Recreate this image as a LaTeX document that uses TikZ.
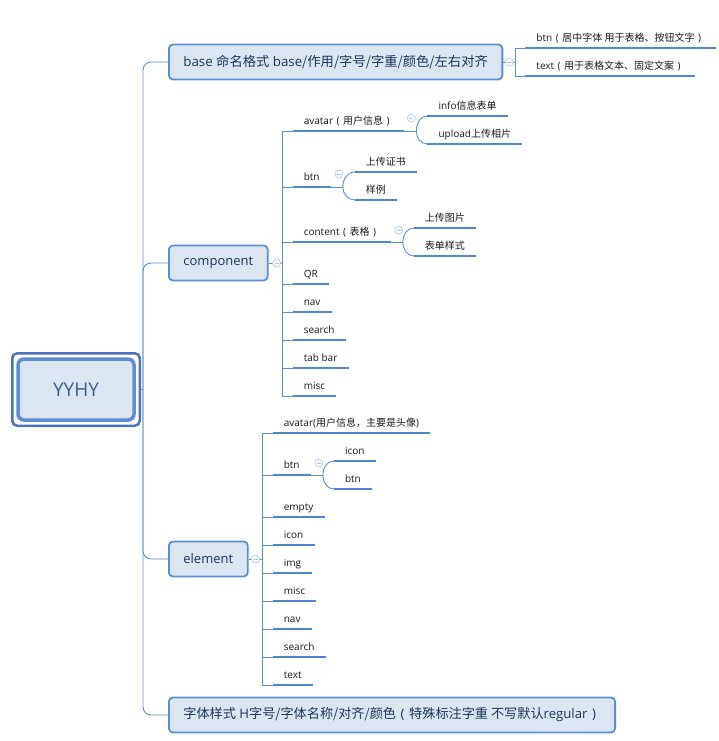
\documentclass[tikz,border=0pt]{standalone}
\usepackage{fontspec}
\setmainfont{Noto Sans CJK SC}
\newfontfamily\latfont{Open Sans}
\newcommand\lt[1]{{\latfont #1}}
\newcommand\zl{\makebox[1em][c]{\latfont (}}
\newcommand\zr{\makebox[1em][c]{\latfont )}}
\usetikzlibrary{fit,calc}
\definecolor{boxfill}{HTML}{DCE6F2}
\definecolor{boxdraw}{HTML}{5B8ED6}
\definecolor{rootdraw}{HTML}{4A72C2}
\definecolor{linec}{HTML}{5B8ED6}
\definecolor{ulc}{HTML}{4F86D0}
\definecolor{topictext}{HTML}{1C355E}
\definecolor{roottext}{HTML}{3A5C8C}
\definecolor{leaftext}{HTML}{1A1A1A}
\definecolor{btnc}{HTML}{A8C2EA}
\begin{document}
\begin{tikzpicture}[x=1pt,y=-1pt,
 topic/.style={draw=boxdraw, line width=1.8pt, fill=boxfill, rounded corners=4pt, minimum height=35pt, inner xsep=14.5pt, font=\fontsize{13}{15}\selectfont, text=topictext, anchor=west},
 rootin/.style={draw=boxdraw, line width=3.5pt, fill=boxfill, rounded corners=6pt, minimum width=116pt, minimum height=61pt, font=\fontsize{19}{22}\selectfont\latfont, text=roottext},
 rootout/.style={draw=rootdraw, line width=2.5pt, rounded corners=5pt, inner sep=4pt},
 leaf/.style={anchor=south west, inner xsep=11pt, inner ysep=4pt, text height=8pt, text depth=2.5pt, font=\fontsize{10}{12}\selectfont, text=leaftext},
 uline/.style={draw=ulc, line width=2.5pt},
 conn/.style={draw=linec, line width=0.9pt},
 collapse/.style={circle, draw=btnc, fill=white, line width=0.6pt, minimum size=8pt, inner sep=0pt,
   path picture={\draw[btnc, line width=0.6pt] ([xshift=-2pt]path picture bounding box.center) -- ([xshift=2pt]path picture bounding box.center);}}
]
\useasboundingbox (0,0) rectangle (718,741);

% root
\node[rootin] (root) at (76,389.5) {YYHY};
\node[rootout, fit=(root)] (rootframe) {};
\coordinate (sp) at (143,389.5);
\draw[conn] (rootframe.east) -- (sp);

% topics
\node[topic, font=\fontsize{13.3}{15}\selectfont] (base) at (168,62) {\lt{base }命名格式\lt{ base}/作用/字号/字重/颜色/左右对齐};
\node[topic] (comp) at (168,263) {\lt{component}};
\node[topic] (elem) at (168,559) {\lt{element}};
\node[topic, font=\fontsize{13.15}{15}\selectfont] (font) at (168,715) {字体样式\lt{ H}字号/字体名称/对齐/颜色\zl 特殊标注字重 不写默认\lt{regular}\zr};

\draw[conn, rounded corners=8pt] (sp) |- (base.west);
\draw[conn, rounded corners=8pt] (sp) |- (comp.west);
\draw[conn, rounded corners=8pt] (sp) |- (elem.west);
\draw[conn, rounded corners=8pt] (sp) |- (font.west);

% base children
\coordinate (bbus) at ($(base.east)+(12,0)$);
\node[leaf] (bb1) at ($(bbus)+(10,-14)$) {\lt{btn}\zl 居中字体 用于表格、按钮文字\zr};
\node[leaf] (bb2) at ($(bbus)+(10,14)$) {\lt{text}\zl 用于表格文本、固定文案\zr};
\draw[conn] (base.east) -- (bbus);
\draw[conn] (bbus) |- (bb1.south west);
\draw[conn] (bbus) |- (bb2.south west);

% component children
\coordinate (cbus) at ($(comp.east)+(14,0)$);
\node[leaf] (ca) at ($(cbus)+(10,-132)$) {\lt{avatar}\zl 用户信息\zr};
\node[leaf] (cb) at ($(cbus)+(10,-76)$) {\lt{btn}};
\node[leaf] (cc) at ($(cbus)+(10,-21)$) {\lt{content}\zl 表格\zr};
\node[leaf] (cd) at ($(cbus)+(10,21)$) {\lt{QR}};
\node[leaf] (ce) at ($(cbus)+(10,49)$) {\lt{nav}};
\node[leaf] (cf) at ($(cbus)+(10,77)$) {\lt{search}};
\node[leaf] (cg) at ($(cbus)+(10,105)$) {\lt{tab bar}};
\node[leaf] (ch) at ($(cbus)+(10,133)$) {\lt{misc}};
\draw[conn] (comp.east) -- (cbus);
\foreach \n in {ca,cb,cc,cd,ce,cf,cg,ch} \draw[conn] (cbus) |- (\n.south west);

% avatar children
\coordinate (caj) at ($(ca.south east)+(12,0)$);
\node[leaf] (ca1) at ($(ca.south east)+(23,-15)$) {\lt{info}信息表单};
\node[leaf] (ca2) at ($(ca.south east)+(23,13)$) {\lt{upload}上传相片};
\draw[conn] (ca.south east) -- (caj);
\draw[conn] (caj) to[out=90,in=180] (ca1.south west);
\draw[conn] (caj) to[out=-90,in=180] (ca2.south west);

% btn children
\coordinate (cbj) at ($(cb.south east)+(12,0)$);
\node[leaf] (cb1) at ($(cb.south east)+(24,-15)$) {上传证书};
\node[leaf] (cb2) at ($(cb.south east)+(24,13)$) {样例};
\draw[conn] (cb.south east) -- (cbj);
\draw[conn] (cbj) to[out=90,in=180] (cb1.south west);
\draw[conn] (cbj) to[out=-90,in=180] (cb2.south west);

% content children
\coordinate (ccj) at ($(cc.south east)+(12,0)$);
\node[leaf] (cc1) at ($(cc.south east)+(23,-14)$) {上传图片};
\node[leaf] (cc2) at ($(cc.south east)+(23,14)$) {表单样式};
\draw[conn] (cc.south east) -- (ccj);
\draw[conn] (ccj) to[out=90,in=180] (cc1.south west);
\draw[conn] (ccj) to[out=-90,in=180] (cc2.south west);

% element children
\coordinate (ebus) at ($(elem.east)+(14,0)$);
\node[leaf] (ea) at ($(ebus)+(10,-126)$) {\lt{avatar(}用户信息，主要是头像\lt{)}};
\node[leaf] (eb) at ($(ebus)+(10,-84)$) {\lt{btn}};
\node[leaf] (ec) at ($(ebus)+(10,-42)$) {\lt{empty}};
\node[leaf] (ed) at ($(ebus)+(10,-14)$) {\lt{icon}};
\node[leaf] (ee) at ($(ebus)+(10,14)$) {\lt{img}};
\node[leaf] (ef) at ($(ebus)+(10,42)$) {\lt{misc}};
\node[leaf] (eg) at ($(ebus)+(10,70)$) {\lt{nav}};
\node[leaf] (eh) at ($(ebus)+(10,98)$) {\lt{search}};
\node[leaf] (ei) at ($(ebus)+(10,126)$) {\lt{text}};
\draw[conn] (elem.east) -- (ebus);
\foreach \n in {ea,eb,ec,ed,ee,ef,eg,eh,ei} \draw[conn] (ebus) |- (\n.south west);

% element btn children
\coordinate (ebj) at ($(eb.south east)+(12,0)$);
\node[leaf] (eb1) at ($(eb.south east)+(23,-14)$) {\lt{icon}};
\node[leaf] (eb2) at ($(eb.south east)+(23,14)$) {\lt{btn}};
\draw[conn] (eb.south east) -- (ebj);
\draw[conn] (ebj) to[out=90,in=180] (eb1.south west);
\draw[conn] (ebj) to[out=-90,in=180] (eb2.south west);

% underlines
\foreach \n in {bb1,bb2,ca,ca1,ca2,cb,cb1,cb2,cc,cc1,cc2,cd,ce,cf,cg,ch,ea,eb,eb1,eb2,ec,ed,ee,ef,eg,eh,ei}
  \draw[uline] (\n.south west) -- (\n.south east);

% collapse buttons
\node[collapse] (kbase) at ($(base.east)+(6,0)$) {};
\node[collapse] (kcomp) at ($(comp.east)+(8,0)$) {};
\node[collapse] (kelem) at ($(elem.east)+(7,0)$) {};
\node[collapse] (kca) at ($(ca.south east)+(7,-13)$) {};
\node[collapse] (kcb) at ($(cb.south east)+(8,-13)$) {};
\node[collapse] (kcc) at ($(cc.south east)+(8,-12)$) {};
\node[collapse] (keb) at ($(eb.south east)+(8,-12)$) {};
\end{tikzpicture}
\end{document}
